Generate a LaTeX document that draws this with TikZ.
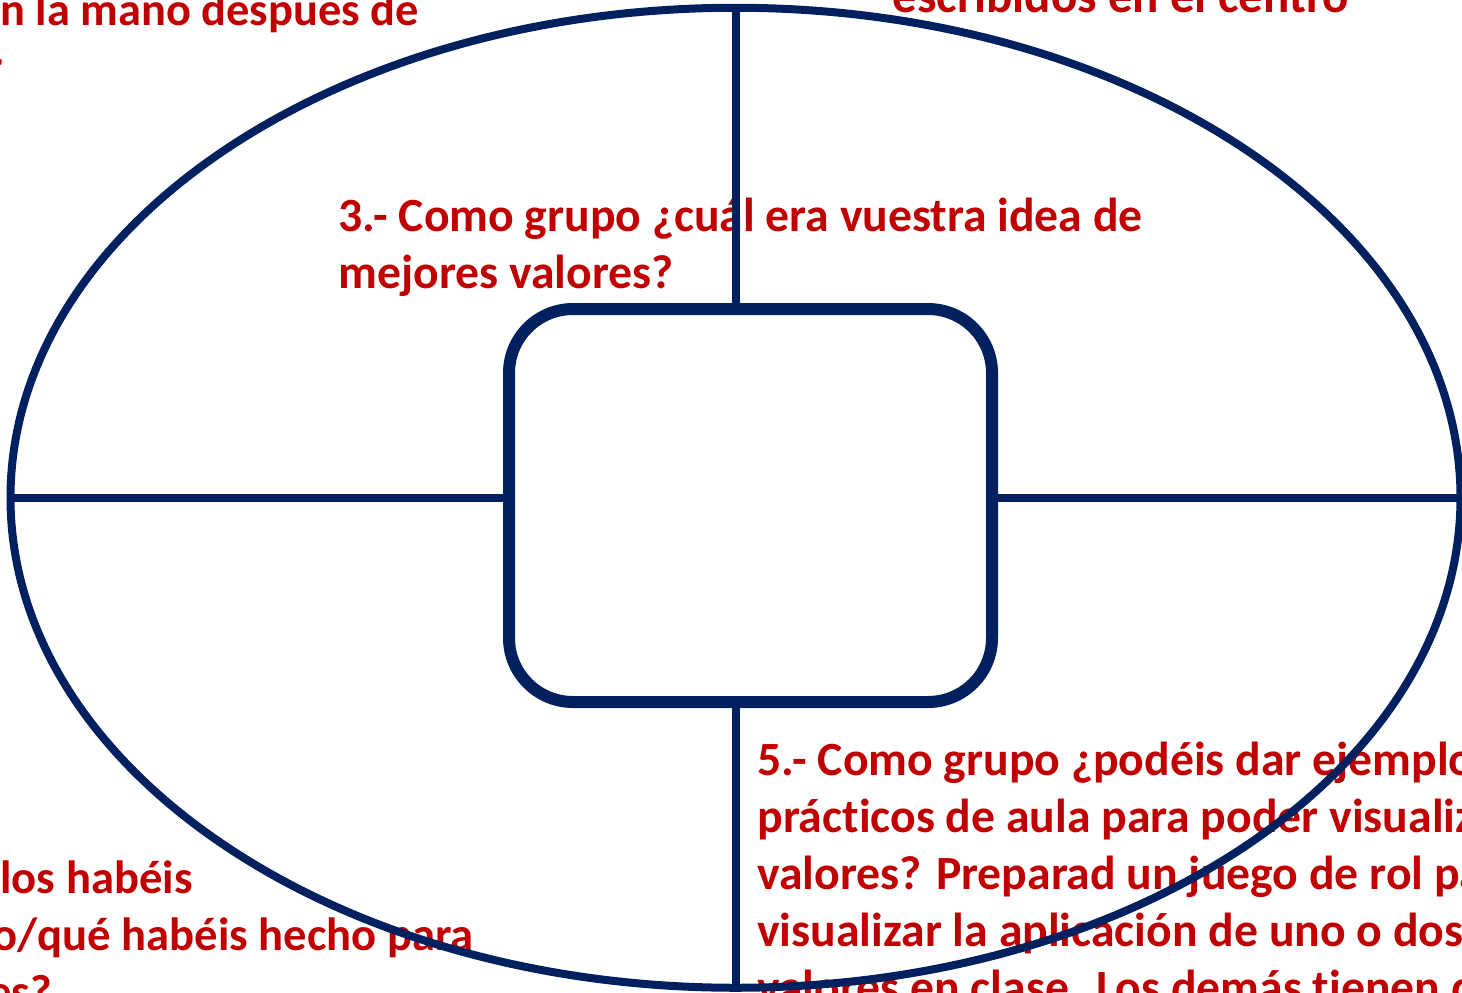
\documentclass[tikz,border=0pt]{standalone}
\usepackage{fontspec}
\setmainfont[Ligatures=NoCommon]{Carlito}
\usetikzlibrary{shapes.geometric}
\definecolor{azul}{HTML}{002060}
\definecolor{rojo}{HTML}{C00000}
\tikzset{
  linea/.style={draw=azul,line width=4pt},
  texto/.style={text=rojo,font=\fontsize{#1}{28.5}\selectfont\bfseries,inner sep=0pt,anchor=base west,align=left},
  texto/.default=23.85,
}

\begin{document}
\begin{tikzpicture}[x=0.5pt,y=-0.5pt]
\useasboundingbox (0,0) rectangle (1462,992);
\clip (0,0) rectangle (1462,992);

% textos (base = ultima linea)
\node[texto=23.2] (t1) at (0,25) {n la mano después de};
\node[texto=23.2,anchor=base east] (t1b) at (3,82) {r};
\node[texto=24.5] (t2) at (892,12) {escribidos en el centro};
\node[texto] (t3) at (338,288) {3.- Como grupo ¿cuál era vuestra idea de\\mejores valores?};
\node[texto=23.3] (t4) at (0,893) {los habéis};
\node[texto=23.3] (t4b) at (-8,950) {o/qué habéis hecho para};
\node[texto=23.3] (t4c) at (-12,1007) {es?};
\node[texto] (t5) at (757,1003) {5.- Como grupo ¿podéis dar ejemplo\\prácticos de aula para poder visualiz\\valores? Preparad un juego de rol pa\\visualizar la aplicación de uno o dos\\valores en clase. Los demás tienen q};

\node[draw=azul,line width=4pt,ellipse,inner sep=0pt,outer sep=0pt,minimum width=725pt,minimum height=490pt] (ovalo) at (735.5,497.75) {};
\node[draw=azul,line width=6pt,rounded corners=32pt,inner sep=0pt,outer sep=0pt,minimum width=241.5pt,minimum height=196.5pt] (centro) at (750.5,505.5) {};

\draw[linea] (ovalo.north) -- (ovalo.north |- centro.north);
\draw[linea] (ovalo.south) -- (ovalo.south |- centro.south);
\draw[linea] (ovalo.west) -- (ovalo.west -| centro.west);
\draw[linea] (ovalo.east) -- (ovalo.east -| centro.east);

\end{tikzpicture}
\end{document}
